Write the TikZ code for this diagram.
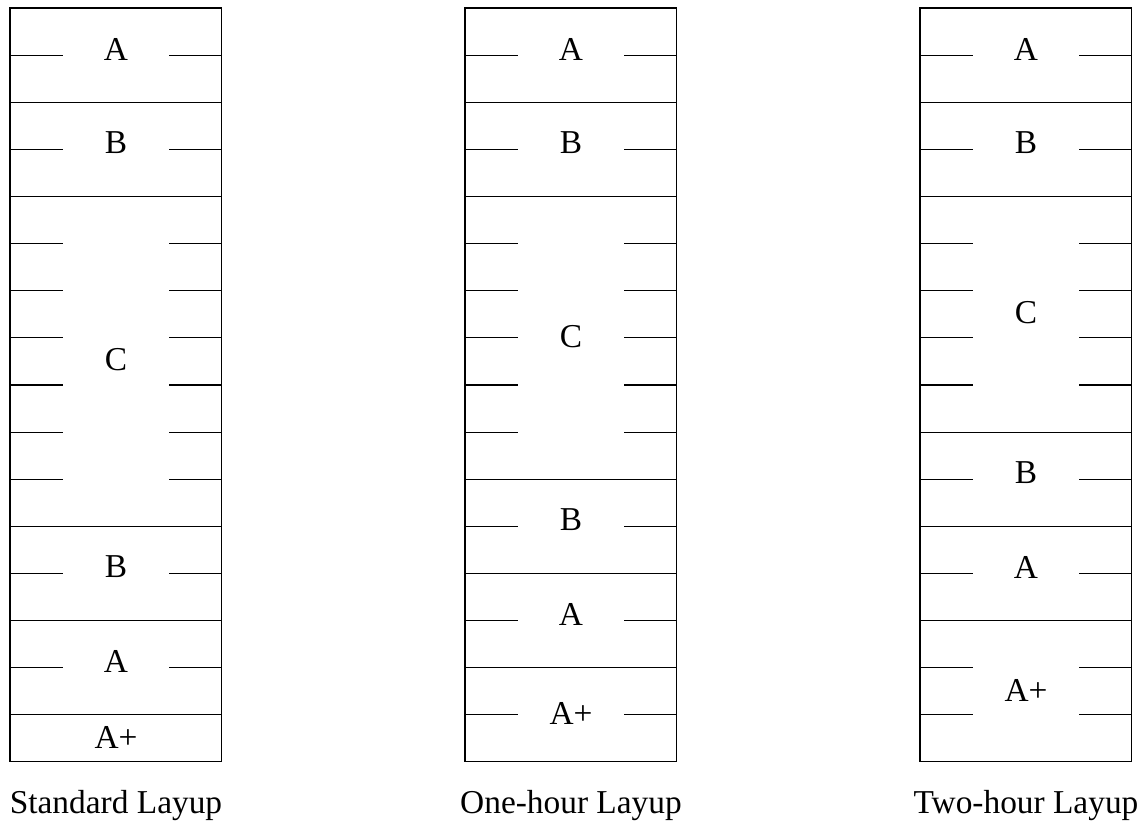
\documentclass[tikz,border=0pt]{standalone}
\usepackage{fontspec}
\setmainfont{Liberation Serif}
\usetikzlibrary{positioning}

\begin{document}
\begin{tikzpicture}[
    x=0.02cm, y=-0.02cm,
    ply/.style={line width=0.6pt},
    layup/.style={draw, line width=0.6pt, anchor=north west, inner sep=0pt, outer sep=0pt,
                  minimum width=4.24cm, minimum height=15.08cm},
    lbl/.style={font=\fontsize{19}{23}\selectfont, inner sep=0pt},
    captext/.style={font=\fontsize{19}{23}\selectfont, inner sep=0pt},
]
\useasboundingbox (0,0) rectangle (1146,821);

% === Column 1: Standard Layup ===
\node[layup] (std) at (10,8) {};
\foreach \k in {2,4,11,13,15}
    \draw[ply] (10,8+47.125*\k) -- ++(212,0);
\foreach \k in {1,3,5,6,7,8,9,10,12,14}
    \draw[ply] (10,8+47.125*\k) -- ++(53,0) (169,8+47.125*\k) -- ++(53,0);
\node[lbl] (std-a) at (116,49) {A};
\node[lbl] (std-b) at (116,143) {B};
\node[lbl] (std-c) at (116,360) {C};
\node[lbl] (std-b2) at (116,567) {B};
\node[lbl] (std-a2) at (116,661) {A};
\node[lbl] (std-ap) at (116,737) {A+};
\node[captext, below=0.56cm of std] (std-cap) {Standard Layup};

% === Column 2: One-hour Layup ===
\node[layup] (one) at (465,8) {};
\foreach \k in {2,4,10,12,14}
    \draw[ply] (465,8+47.125*\k) -- ++(212,0);
\foreach \k in {1,3,5,6,7,8,9,11,13,15}
    \draw[ply] (465,8+47.125*\k) -- ++(53,0) (624,8+47.125*\k) -- ++(53,0);
\node[lbl] (one-a) at (571,49) {A};
\node[lbl] (one-b) at (571,143) {B};
\node[lbl] (one-c) at (571,337) {C};
\node[lbl] (one-b2) at (571,520) {B};
\node[lbl] (one-a2) at (571,614) {A};
\node[lbl] (one-ap) at (571,713) {A+};
\node[captext, below=0.56cm of one] (one-cap) {One-hour Layup};

% === Column 3: Two-hour Layup ===
\node[layup] (two) at (920,8) {};
\foreach \k in {2,4,9,11,13}
    \draw[ply] (920,8+47.125*\k) -- ++(212,0);
\foreach \k in {1,3,5,6,7,8,10,12,14,15}
    \draw[ply] (920,8+47.125*\k) -- ++(53,0) (1079,8+47.125*\k) -- ++(53,0);
\node[lbl] (two-a) at (1026,49) {A};
\node[lbl] (two-b) at (1026,143) {B};
\node[lbl] (two-c) at (1026,313) {C};
\node[lbl] (two-b2) at (1026,473) {B};
\node[lbl] (two-a2) at (1026,567) {A};
\node[lbl] (two-ap) at (1026,690) {A+};
\node[captext, below=0.56cm of two] (two-cap) {Two-hour Layup};

\end{tikzpicture}
\end{document}
